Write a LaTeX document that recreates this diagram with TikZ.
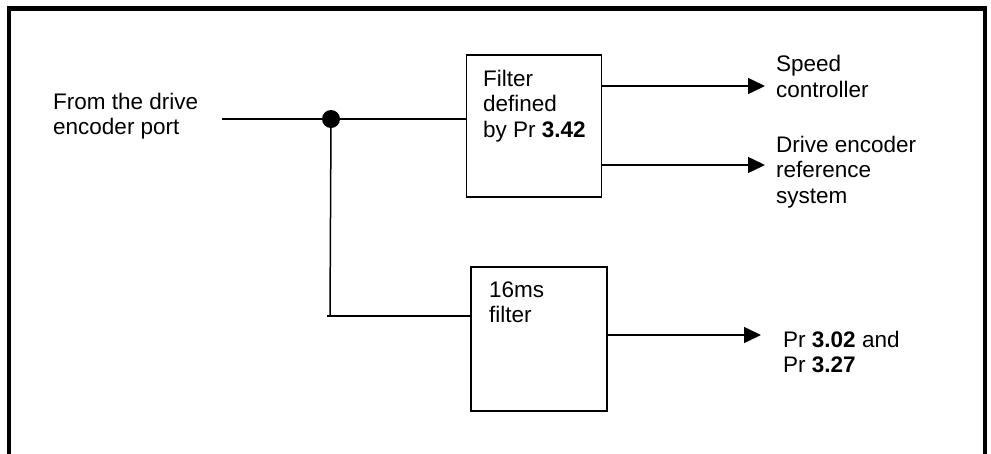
\documentclass[tikz,border=0pt]{standalone}
\usepackage{fontspec}
\setmainfont{Liberation Sans}
\usetikzlibrary{arrows.meta}
\newcommand{\mlines}[1]{\vtop{\baselineskip=25.7pt\lineskiplimit=-30pt\halign{##\hfil\cr#1\crcr}}}
\tikzset{
  txt/.style={anchor=base west, inner sep=0pt, font=\fontsize{22.5}{26}\selectfont},
  blockbox/.style={draw, line width=1.5pt, inner sep=0pt},
  wire/.style={line width=1.5pt},
  arr/.style={line width=1.5pt, -{Triangle[length=17pt,width=16pt]}},
  frame/.style={line width=4.5pt, line join=miter}
}
\begin{document}
\begin{tikzpicture}[x=1pt,y=-1pt]
\useasboundingbox (0,0) rectangle (991,453);
% outer frame (open at the bottom)
\draw[frame] (9,460) -- (9,8.5) -- (985,8.5) -- (985,460);

% blocks
\node[blockbox, minimum width=135pt, minimum height=142pt] (b1) at (534,126) {};
\node[blockbox, minimum width=136pt, minimum height=144pt] (b2) at (539,339) {};

% texts
\node[txt] (from) at (53,109) {\mlines{From the drive\cr encoder port}};
\node[txt] (t1) at (483,86) {\mlines{Filter\cr defined\cr by Pr \textbf{3.42}}};
\node[txt] (t2) at (489,297) {\mlines{16ms\cr filter}};
\node[txt] (sc) at (776,71.5) {\mlines{Speed\cr controller}};
\node[txt] (de) at (776,152) {\mlines{Drive encoder\cr reference\cr system}};
\node[txt] (pr) at (783,347) {\mlines{Pr \textbf{3.02} and\cr Pr \textbf{3.27}}};

% junction
\node[circle, fill, inner sep=0pt, minimum size=18pt] (dot) at (331,119) {};
\coordinate (in) at (222,119);
\coordinate (j) at (330,316);
\coordinate (jt) at (327,316);
\coordinate (tip1) at (765,86);
\coordinate (tip2) at (765,165);
\coordinate (tip3) at (761,335);

% connectors
\draw[wire] (in) -- (in -| b1.west);
\draw[wire] (dot.center) -- (j);
\draw[wire] (jt) -- (j -| b2.west);
\draw[arr] (tip1 -| b1.east) -- (tip1);
\draw[arr] (tip2 -| b1.east) -- (tip2);
\draw[arr] (tip3 -| b2.east) -- (tip3);
\end{tikzpicture}
\end{document}
